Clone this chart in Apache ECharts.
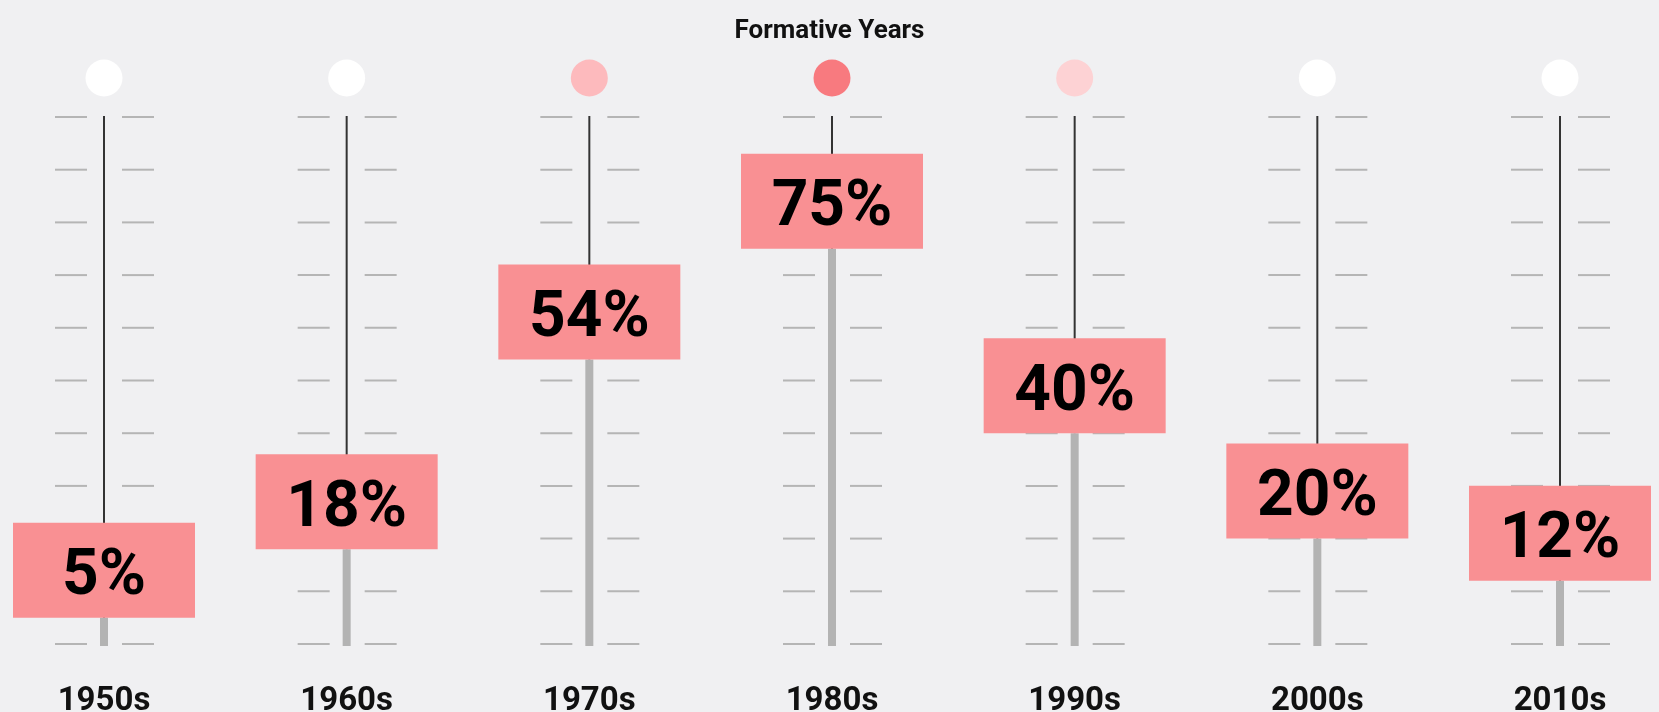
<!DOCTYPE html>
<html>
<head>
<meta charset="utf-8">
<title>Formative Years</title>
<script src="https://cdn.jsdelivr.net/npm/echarts@6/dist/echarts.min.js"></script>
<style>
  html, body { margin: 0; padding: 0; background: #f0f0f2; }
  #main { width: 1659px; height: 712px; }
</style>
</head>
<body>
<div id="main"></div>
<script>
// decades and the share of each one
var categories = ['1950s', '1960s', '1970s', '1980s', '1990s', '2000s', '2010s'];
var shares = [5, 18, 54, 75, 40, 20, 12];
// little dashes drawn on each side of every column
var tickValues = [0, 10, 20, 30, 40, 50, 60, 70, 80, 90, 100];
// dot above each column
var dotColors = ['#ffffff', '#ffffff', '#fdbabd', '#f87a7f', '#fdd2d4', '#ffffff', '#ffffff'];

var myChart = echarts.init(document.getElementById('main'));

function renderTicks(params, api) {
  var idx = api.value(0);
  var children = [];
  tickValues.forEach(function (v) {
    var pt = api.coord([idx, v]);
    children.push({
      type: 'line',
      shape: { x1: pt[0] - 49, y1: pt[1], x2: pt[0] - 17, y2: pt[1] },
      style: { stroke: '#b5b5b5', lineWidth: 2 }
    });
    children.push({
      type: 'line',
      shape: { x1: pt[0] + 18, y1: pt[1], x2: pt[0] + 50, y2: pt[1] },
      style: { stroke: '#b5b5b5', lineWidth: 2 }
    });
  });
  return { type: 'group', children: children };
}

function renderShare(params, api) {
  var idx = api.value(0);
  var v = api.value(1);
  var top = api.coord([idx, 100]);
  var mid = api.coord([idx, v]);
  var base = api.coord([idx, 0]);
  var x = mid[0];
  var boxW = 182, boxH = 95;
  return {
    type: 'group',
    children: [
      {
        type: 'line',
        shape: { x1: x, y1: top[1] - 1, x2: x, y2: mid[1] },
        style: { stroke: '#333333', lineWidth: 2 }
      },
      {
        type: 'rect',
        shape: { x: x - 4, y: mid[1], width: 8, height: base[1] - mid[1] + 2 },
        style: { fill: '#b3b3b3' }
      },
      {
        type: 'rect',
        shape: { x: x - boxW / 2, y: mid[1] - boxH, width: boxW, height: boxH },
        style: { fill: '#f99093' }
      },
      {
        type: 'text',
        style: {
          x: x,
          y: mid[1] - boxH / 2 + 8,
          text: v + '%',
          font: 'bold 64px Roboto',
          fill: '#000000',
          align: 'center',
          verticalAlign: 'middle'
        }
      },
      {
        type: 'circle',
        shape: { cx: x, cy: top[1] - 39, r: 18.5 },
        style: { fill: dotColors[idx] }
      }
    ]
  };
}

myChart.setOption({
  backgroundColor: '#f0f0f2',
  animation: false,
  title: {
    text: 'Formative Years',
    left: 'center',
    top: 13,
    textStyle: { fontFamily: 'Roboto', fontSize: 26, fontWeight: 'bold', color: '#111111' }
  },
  grid: { left: 104, right: 99, top: 117, bottom: 68, outerBoundsMode: 'none', containLabel: false },
  xAxis: {
    type: 'category',
    data: categories,
    boundaryGap: false,
    axisLine: { show: false },
    axisTick: { show: false },
    splitLine: { show: false },
    axisLabel: {
      margin: 41,
      fontFamily: 'Roboto',
      fontSize: 33,
      fontWeight: 'bold',
      color: '#111111'
    }
  },
  yAxis: {
    type: 'value',
    min: 0,
    max: 100,
    interval: 10,
    show: false
  },
  series: [
    {
      name: 'ticks',
      type: 'custom',
      renderItem: renderTicks,
      data: categories.map(function (c, i) { return [i]; }),
      encode: { x: 0 },
      silent: true
    },
    {
      name: 'share',
      type: 'custom',
      renderItem: renderShare,
      data: shares.map(function (v, i) { return [i, v]; }),
      encode: { x: 0, y: 1 }
    }
  ]
});
</script>
</body>
</html>
